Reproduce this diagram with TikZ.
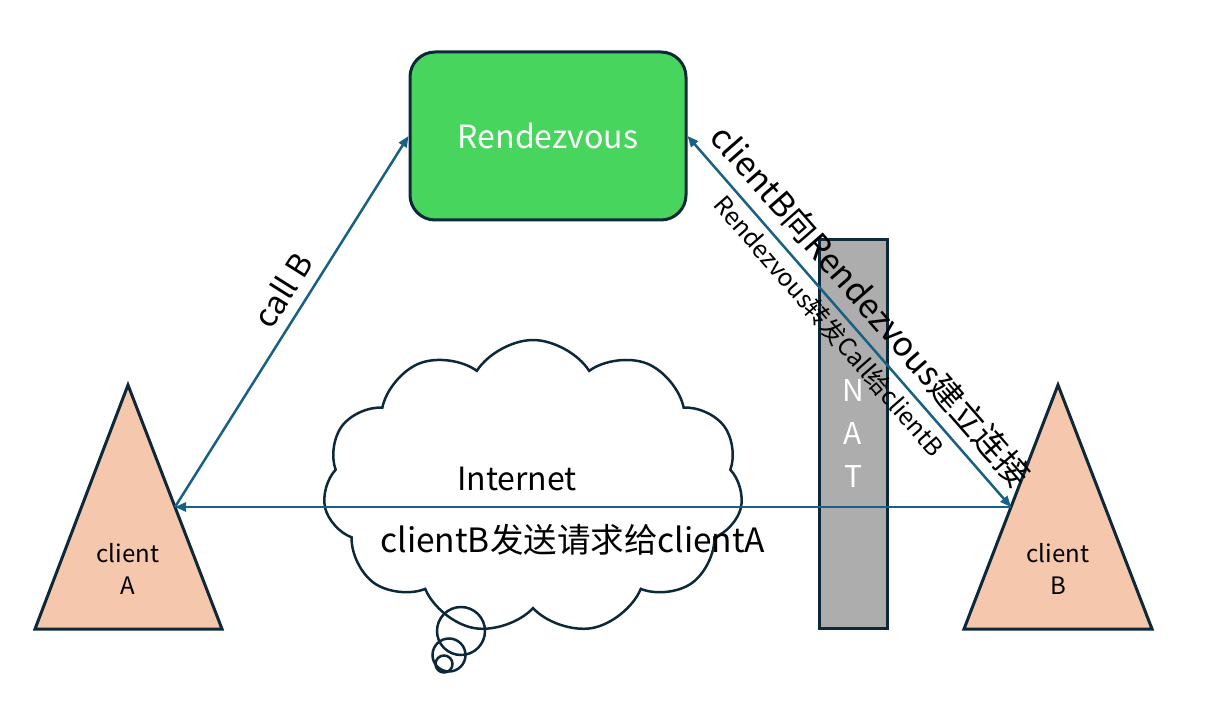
\documentclass[tikz,border=0pt]{standalone}
\usepackage{fontspec}
\setmainfont{Noto Sans CJK SC}
\usetikzlibrary{arrows.meta,shapes.symbols}
\definecolor{borde}{RGB}{13,40,56}
\definecolor{enlace}{RGB}{24,96,132}
\definecolor{verde}{RGB}{72,213,94}
\definecolor{melocoton}{RGB}{245,199,172}
\definecolor{gris}{RGB}{173,173,173}
\begin{document}
\begin{tikzpicture}[x=1pt,y=-1pt,
	>={Triangle[length=11pt,width=9pt]},
	link/.style={draw=enlace, line width=2.5pt},
	grande/.style={font=\fontsize{32}{38}\selectfont},
	etiqueta/.style={font=\fontsize{33.5}{38}\selectfont},
	chico/.style={font=\fontsize{24}{32}\selectfont}]
				\useasboundingbox (0,0) rectangle (1216,703);
				
				% Servidor
				\node[draw=borde, line width=3pt, fill=verde, rounded corners=25pt,
					minimum width=276pt, minimum height=168pt, text=white, grande]
					(R) at (548,136) {Rendezvous};
				
				% Nube
				\node[cloud, draw=borde, line width=2.5pt, cloud puffs=11, cloud puff arc=115,
					minimum width=420pt, minimum height=294pt] (net) at (533,487) {};
				\node[draw=borde, line width=2.5pt, circle, minimum size=48pt] (b1) at (461,631) {};
				\node[draw=borde, line width=2.5pt, circle, minimum size=33pt] (b2) at (449,655) {};
				\node[draw=borde, line width=2.5pt, circle, minimum size=17pt] (b3) at (444,664) {};
				\node[grande] (inet) at (517,479) {Internet};
				
				% NAT
				\node[draw=borde, line width=3pt, fill=gris, minimum width=68pt, minimum height=389pt,
					text=white, align=center, font=\fontsize{30}{43}\selectfont] (nat) at (853,434) {N\\A\\T};
				
				% Cliente izquierdo
				\begin{scope}[shift={(128,385)}]
					\draw[draw=borde, line width=3pt, fill=melocoton] (0,0) -- (94,244) -- (-93,244) -- cycle;
					\coordinate (aR) at (47,122);
					\node[chico, align=center] (cA) at (0,184) {client\\A};
				\end{scope}
				
				% Cliente derecho
				\begin{scope}[shift={(1058,385)}]
					\draw[draw=borde, line width=3pt, fill=melocoton] (0,0) -- (94,244) -- (-94,244) -- cycle;
					\coordinate (bL) at (-47,122);
					\node[chico, align=center] (cB) at (0,184) {client\\B};
				\end{scope}
				
				% Flechas
				\draw[link, ->] (aR) -- (R.west) node[pos=0.55, sloped, above=7pt, grande] {call B};
				\draw[link, <->] (R.east) -- (bL)
					node[pos=0.505, sloped, above=7pt, etiqueta] {clientB向Rendezvous建立连接}
					node[pos=0.48, sloped, below=2pt, font=\fontsize{24.5}{30}\selectfont] {Rendezvous转发Call给clientB};
				\draw[link, <-] (aR) -- (bL) node[pos=0.476, below=13pt, etiqueta] {clientB发送请求给clientA};
			\end{tikzpicture}
\end{document}
